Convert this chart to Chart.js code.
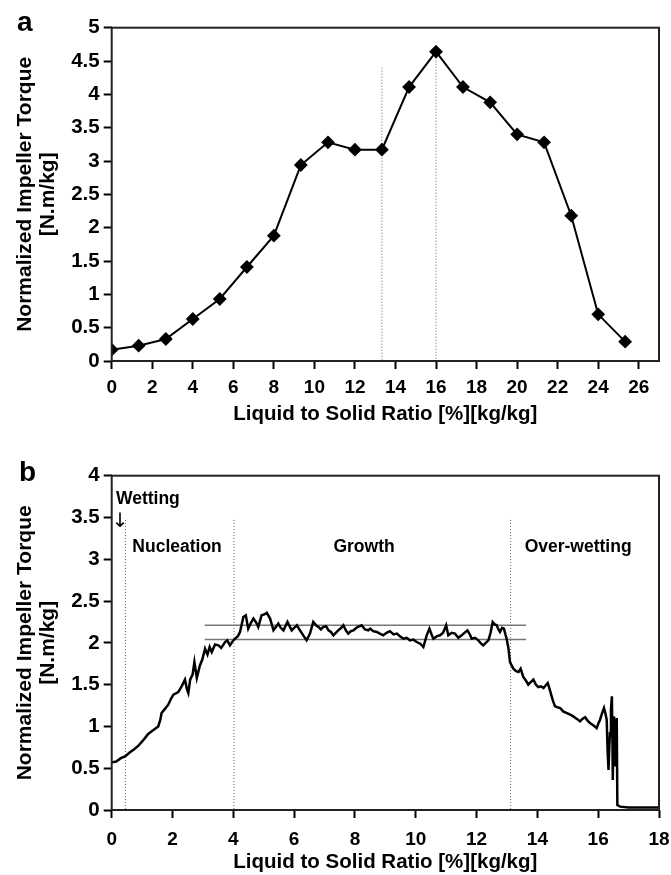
<!DOCTYPE html>
<html>
<head>
<meta charset="utf-8">
<script src="https://cdn.jsdelivr.net/npm/chart.js@4.4.1/dist/chart.umd.min.js"></script>
<style>
  html, body { margin: 0; padding: 0; background: #fff; }
  body { width: 671px; height: 875px; position: relative; overflow: hidden; font-family: "Liberation Sans", Arial, sans-serif; }
  canvas { position: absolute; left: 0; }
  #chartA { top: 0; }
  #chartB { top: 435px; }
  .tag { position: absolute; font-weight: bold; font-size: 28px; line-height: 28px; }
</style>
</head>
<body>
<canvas id="chartA" width="671" height="435"></canvas>
<canvas id="chartB" width="671" height="440"></canvas>
<div class="tag" style="left:17px; top:8px;">a</div>
<div class="tag" style="left:19px; top:458px;">b</div>
<script>
// panel a: torque after each liquid addition
const ratioA = [0, 1.33, 2.67, 4, 5.33, 6.67, 8, 9.33, 10.67, 12, 13.33, 14.67, 16, 17.33, 18.67, 20, 21.33, 22.67, 24, 25.33];
const torqueA = [0.17, 0.23, 0.33, 0.63, 0.93, 1.41, 1.88, 2.94, 3.28, 3.17, 3.17, 4.11, 4.64, 4.11, 3.88, 3.40, 3.28, 2.18, 0.70, 0.29];
const xTicksA = [0, 2, 4, 6, 8, 10, 12, 14, 16, 18, 20, 22, 24, 26];
const yTicksA = [0, 0.5, 1, 1.5, 2, 2.5, 3, 3.5, 4, 4.5, 5];
const markXA = [13.33, 16];
const markTopA = [4.4, 4.64];

// panel b: continuous torque trace
const ratioB = [0.00, 0.15, 0.30, 0.44, 0.60, 0.75, 0.88, 1.05, 1.20, 1.35, 1.53, 1.60, 1.64, 1.75, 1.86, 1.95, 2.03, 2.19, 2.30, 2.41,
  2.47, 2.52, 2.58, 2.66, 2.72, 2.80, 2.90, 2.98, 3.07, 3.15, 3.22, 3.29, 3.40, 3.51, 3.60, 3.73, 3.80, 3.89, 3.98, 4.06,
  4.15, 4.22, 4.33, 4.41, 4.49, 4.58, 4.66, 4.74, 4.82, 4.93, 5.02, 5.10, 5.21, 5.32, 5.40, 5.48, 5.56, 5.65, 5.78, 5.85,
  5.92, 6.00, 6.09, 6.19, 6.30, 6.41, 6.52, 6.63, 6.72, 6.80, 6.88, 6.96, 7.05, 7.13, 7.21, 7.29, 7.37, 7.45, 7.55, 7.62,
  7.70, 7.78, 7.87, 7.95, 8.08, 8.22, 8.33, 8.44, 8.50, 8.60, 8.72, 8.82, 8.93, 9.04, 9.15, 9.27, 9.38, 9.48, 9.59, 9.70,
  9.81, 9.92, 10.03, 10.15, 10.25, 10.36, 10.45, 10.52, 10.58, 10.70, 10.80, 10.90, 11.00, 11.07, 11.18, 11.29, 11.40, 11.51, 11.60, 11.70,
  11.78, 11.84, 11.95, 12.06, 12.15, 12.22, 12.30, 12.39, 12.46, 12.53, 12.60, 12.66, 12.72, 12.77, 12.84, 12.90, 12.95, 12.99, 13.05, 13.10,
  13.21, 13.30, 13.38, 13.45, 13.54, 13.62, 13.70, 13.78, 13.87, 13.95, 14.03, 14.12, 14.20, 14.27, 14.34, 14.40, 14.47, 14.52, 14.58, 14.66,
  14.75, 14.85, 14.97, 15.08, 15.18, 15.30, 15.40, 15.48, 15.57, 15.65, 15.73, 15.85, 15.95, 16.00, 16.06, 16.12, 16.19, 16.24, 16.28, 16.31,
  16.34, 16.37, 16.39, 16.42, 16.45, 16.47, 16.48, 16.50, 16.52, 16.54, 16.55, 16.58, 16.61, 16.63, 16.72, 17.00, 17.50, 18.00];
const torqueB = [0.57, 0.58, 0.62, 0.64, 0.69, 0.73, 0.77, 0.84, 0.91, 0.95, 1.00, 1.08, 1.16, 1.21, 1.26, 1.33, 1.38, 1.41, 1.48, 1.56,
  1.45, 1.40, 1.56, 1.62, 1.77, 1.58, 1.73, 1.80, 1.93, 1.86, 1.95, 1.89, 1.98, 1.97, 1.94, 2.01, 2.03, 1.97, 2.02, 2.05,
  2.08, 2.13, 2.31, 2.33, 2.17, 2.24, 2.29, 2.25, 2.19, 2.33, 2.34, 2.36, 2.29, 2.15, 2.19, 2.23, 2.18, 2.15, 2.25, 2.20,
  2.15, 2.18, 2.21, 2.15, 2.09, 2.03, 2.11, 2.25, 2.21, 2.19, 2.16, 2.19, 2.20, 2.15, 2.13, 2.09, 2.12, 2.15, 2.18, 2.21,
  2.15, 2.11, 2.14, 2.15, 2.19, 2.21, 2.16, 2.15, 2.17, 2.14, 2.13, 2.11, 2.09, 2.12, 2.14, 2.10, 2.11, 2.08, 2.05, 2.06,
  2.03, 2.04, 2.01, 1.99, 1.95, 2.09, 2.17, 2.10, 2.05, 2.08, 2.09, 2.12, 2.21, 2.09, 2.12, 2.11, 2.06, 2.09, 2.12, 2.15,
  2.10, 2.05, 2.06, 2.03, 1.99, 1.97, 2.00, 2.03, 2.12, 2.25, 2.22, 2.21, 2.16, 2.13, 2.18, 2.17, 2.10, 2.05, 1.93, 1.77,
  1.69, 1.66, 1.65, 1.69, 1.59, 1.55, 1.50, 1.53, 1.56, 1.50, 1.47, 1.48, 1.46, 1.49, 1.52, 1.45, 1.36, 1.30, 1.24, 1.23,
  1.22, 1.18, 1.16, 1.14, 1.12, 1.09, 1.06, 1.09, 1.11, 1.07, 1.04, 1.01, 0.98, 1.03, 1.08, 1.15, 1.22, 1.15, 1.08, 0.70,
  0.48, 0.80, 0.92, 1.20, 1.36, 0.80, 0.36, 0.90, 1.12, 0.80, 0.52, 0.95, 1.10, 0.06, 0.04, 0.03, 0.03, 0.03];
const xTicksB = [0, 2, 4, 6, 8, 10, 12, 14, 16, 18];
const yTicksB = [0, 0.5, 1, 1.5, 2, 2.5, 3, 3.5, 4];
const phaseXB = [0.45, 4.02, 13.12];
const phaseTopB = 3.47;
const bandYB = [2.21, 2.04];
const bandSpanB = [3.06, 13.63];
const phaseNames = ['Nucleation', 'Growth', 'Over-wetting'];
const wetLabel = 'Wetting';

const FAMILY = '"Liberation Sans", Arial, Helvetica, sans-serif';
Chart.defaults.font.family = FAMILY;
Chart.defaults.font.weight = 'bold';
Chart.defaults.color = '#000';

const toPoints = (xs, ys) => xs.map((x, i) => ({ x: x, y: ys[i] }));

function dotted(x, top) {
  return { data: [{ x: x, y: top }, { x: x, y: 0 }], borderColor: '#666', borderWidth: 1,
    borderDash: [1, 2], pointRadius: 0, order: 5 };
}

// full box round the plot area
const frame = {
  id: 'frame',
  afterDatasetsDraw(chart) {
    const { ctx, chartArea: a } = chart;
    ctx.save();
    ctx.strokeStyle = '#222';
    ctx.lineWidth = 2;
    ctx.strokeRect(a.left, a.top, a.right - a.left, a.bottom - a.top);
    ctx.restore();
  }
};

function scales(o) {
  return {
    x: {
      type: 'linear', min: o.xMin, max: o.xMax,
      afterBuildTicks: s => { s.ticks = o.xTicks.map(v => ({ value: v })); },
      afterFit: s => { s.height = o.xHeight; s.paddingLeft = 0; s.paddingRight = 0; },
      grid: { drawOnChartArea: false, tickLength: 8, tickWidth: 2, tickColor: '#000' },
      border: { display: false },
      ticks: { font: { size: 19 }, padding: o.xPad, maxRotation: 0, autoSkip: false, callback: v => String(v) },
      title: { display: true, text: 'Liquid to Solid Ratio [%][kg/kg]', font: { size: 20.5 },
        padding: { top: 0, bottom: o.titlePad } }
    },
    y: {
      type: 'linear', min: o.yMin, max: o.yMax,
      afterBuildTicks: s => { s.ticks = o.yTicks.map(v => ({ value: v })); },
      afterFit: s => { s.width = 111.7; s.paddingTop = 0; s.paddingBottom = 0; },
      grid: { drawOnChartArea: false, tickLength: 8, tickWidth: 2, tickColor: '#000' },
      border: { display: false },
      ticks: { font: { size: 20.5 }, padding: 4, autoSkip: false, callback: v => String(v) },
      title: { display: true, text: ['Normalized Impeller Torque', '[N.m/kg]'],
        font: { size: 21, lineHeight: 1.1 }, padding: { top: 13.5, bottom: 0 } }
    }
  };
}

new Chart(document.getElementById('chartA'), {
  type: 'line',
  data: {
    datasets: [
      { data: toPoints(ratioA, torqueA), borderColor: '#000', borderWidth: 2, pointStyle: 'rectRot',
        pointRadius: 5.5, pointBackgroundColor: '#000', pointBorderColor: '#000', order: 1 },
      dotted(markXA[0], markTopA[0]),
      dotted(markXA[1], markTopA[1])
    ]
  },
  options: {
    responsive: false, animation: false,
    layout: { padding: { left: 0, right: 12, top: 27.7, bottom: 0 } },
    plugins: { legend: { display: false }, tooltip: { enabled: false } },
    scales: scales({ xMin: 0, xMax: 27, xTicks: xTicksA, yMin: 0, yMax: 5, yTicks: yTicksA,
      xHeight: 74, xPad: 7, titlePad: 8.7 })
  },
  plugins: [frame]
});

const phaseText = {
  id: 'phaseText',
  afterDraw(chart) {
    const { ctx, scales: { x, y } } = chart;
    const nameX = [2.15, 8.3, 15.34];
    ctx.save();
    ctx.fillStyle = '#000';
    ctx.textBaseline = 'middle';
    ctx.font = 'bold 17.5px ' + FAMILY;
    ctx.textAlign = 'center';
    phaseNames.forEach((t, i) => ctx.fillText(t, x.getPixelForValue(nameX[i]), y.getPixelForValue(3.15)));
    ctx.textAlign = 'left';
    ctx.fillText(wetLabel, x.getPixelForValue(0.14), y.getPixelForValue(3.72));
    ctx.font = '20px "DejaVu Sans"';
    ctx.textAlign = 'center';
    ctx.fillText('\u2193', x.getPixelForValue(0.28), y.getPixelForValue(3.45));
    ctx.restore();
  }
};

new Chart(document.getElementById('chartB'), {
  type: 'line',
  data: {
    datasets: [
      { data: toPoints(ratioB, torqueB), borderColor: '#000', borderWidth: 2.5, pointRadius: 0, order: 1 },
      { data: [{ x: bandSpanB[0], y: bandYB[0] }, { x: bandSpanB[1], y: bandYB[0] }], borderColor: '#777',
        borderWidth: 1.5, pointRadius: 0, order: 3 },
      { data: [{ x: bandSpanB[0], y: bandYB[1] }, { x: bandSpanB[1], y: bandYB[1] }], borderColor: '#777',
        borderWidth: 1.5, pointRadius: 0, order: 3 },
      dotted(phaseXB[0], phaseTopB),
      dotted(phaseXB[1], phaseTopB),
      dotted(phaseXB[2], phaseTopB)
    ]
  },
  options: {
    responsive: false, animation: false,
    layout: { padding: { left: 0, right: 12, top: 40.7, bottom: 0 } },
    plugins: { legend: { display: false }, tooltip: { enabled: false } },
    scales: scales({ xMin: 0, xMax: 18, xTicks: xTicksB, yMin: 0, yMax: 4, yTicks: yTicksB,
      xHeight: 65, xPad: 10, titlePad: 0 })
  },
  plugins: [frame, phaseText]
});
</script>
</body>
</html>
